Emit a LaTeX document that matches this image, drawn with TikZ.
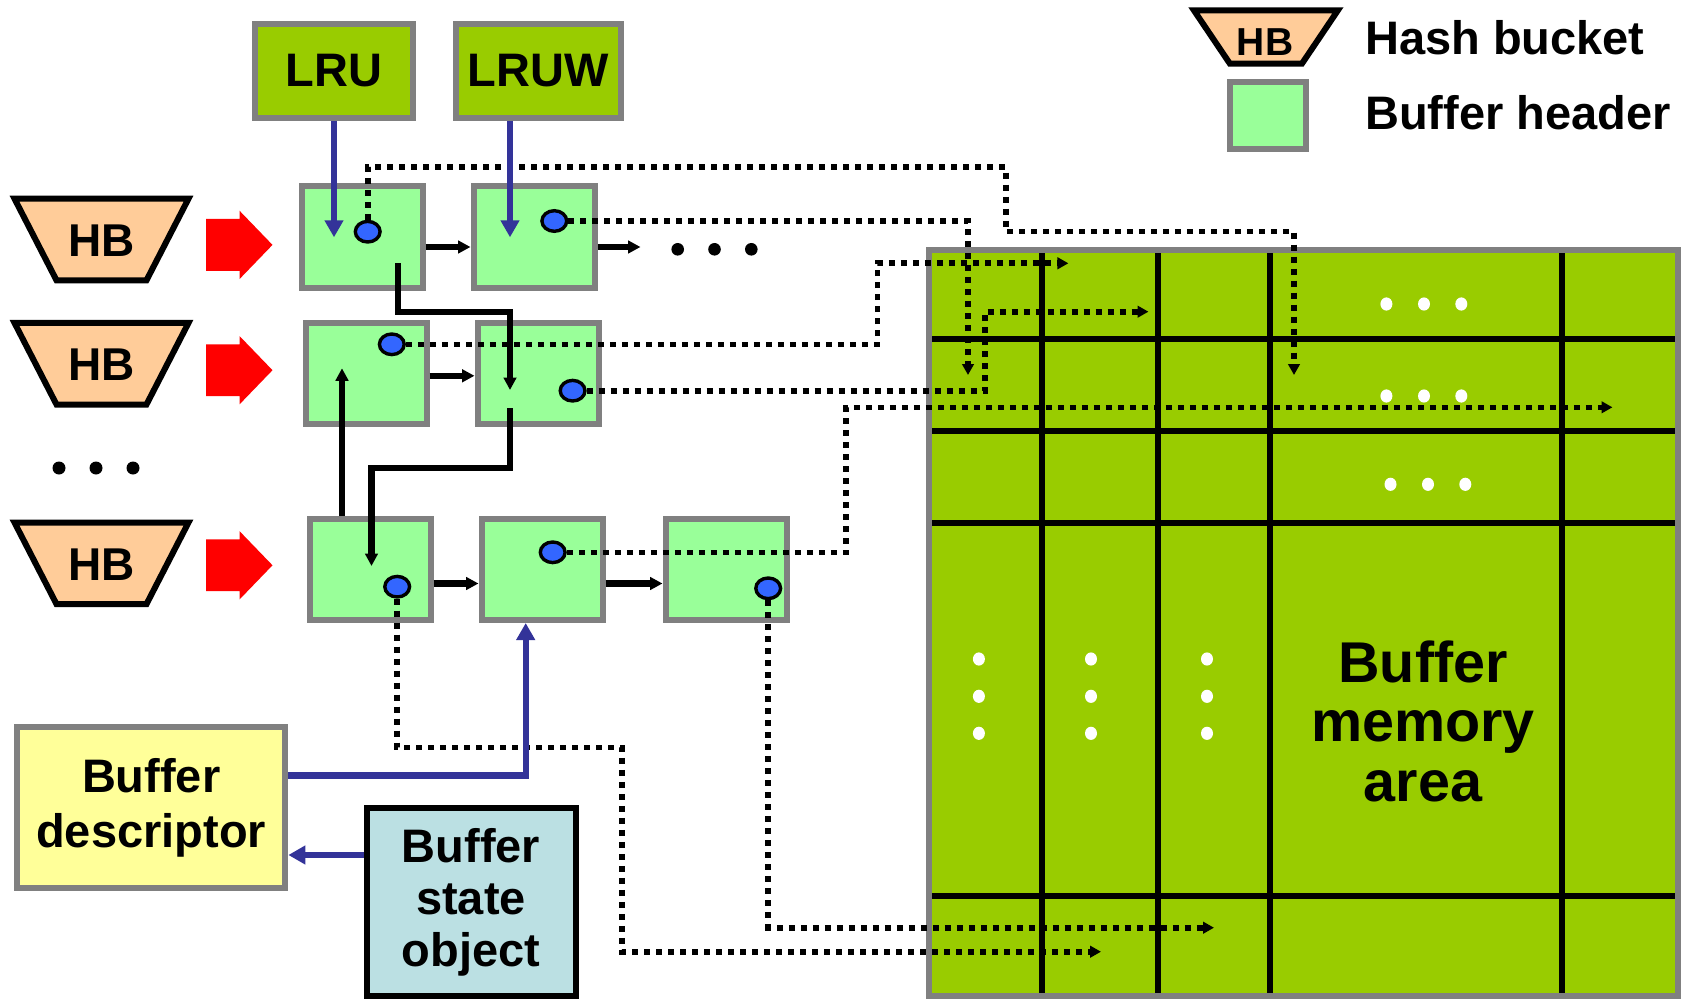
\documentclass[tikz,border=0pt]{standalone}
\usepackage{fontspec}
\setmainfont{Liberation Sans}
\usetikzlibrary{arrows.meta,calc,shapes.geometric}
\definecolor{hgray}{HTML}{808080}
\definecolor{lgreen}{HTML}{99CC00}
\definecolor{hgreen}{HTML}{99FF99}
\definecolor{hborange}{HTML}{FFCC99}
\definecolor{dotblue}{HTML}{3366FF}
\definecolor{navy}{HTML}{333399}
\definecolor{descy}{HTML}{FFFF99}
\definecolor{statec}{RGB}{187,224,227}
\definecolor{redar}{HTML}{FF0000}
\begin{document}
\begin{tikzpicture}[x=1pt,y=-1pt,
  hdr/.style={draw=hgray,fill=hgreen,line width=6pt,minimum width=121pt,minimum height=101pt,inner sep=0pt},
  lrubox/.style={draw=hgray,fill=lgreen,line width=6pt,minimum height=94pt,inner sep=0pt,font=\bfseries\fontsize{47}{52}\selectfont},
  bdot/.style={ellipse,draw=black,fill=dotblue,line width=3.4pt,minimum width=24.8pt,minimum height=20.6pt,inner sep=0pt},
  dotline/.style={line width=5.6pt,dash pattern=on 6pt off 6pt,-{Triangle[length=11pt,width=11.5pt]}},
  blk/.style={line width=6.2pt,-{Triangle[length=12.5pt,width=12.5pt]}},
  bl/.style={color=navy,line width=6.2pt,-{Triangle[length=17pt,width=18pt]}},
  hbtxt/.style={inner sep=0pt,font=\bfseries\fontsize{46}{50}\selectfont},
  lgtxt/.style={inner sep=0pt,anchor=base west,font=\bfseries\fontsize{47}{52}\selectfont},
  gridline/.style={line width=6.2pt},
  wdot/.style={fill=white},
  hbbig/.pic={\draw[line width=6pt,fill=hborange] (-87,-40.8) -- (87,-40.8) -- (45,40.8) -- (-45,40.8) -- cycle;},
  hbsmall/.pic={\draw[line width=6pt,fill=hborange] (-72,-26.7) -- (72,-26.7) -- (36,26.7) -- (-36,26.7) -- cycle;},
  redarr/.pic={\fill[redar] (0,-25.9) -- (33.5,-25.9) -- (33.5,-34.2) -- (66.5,0) -- (33.5,34.2) -- (33.5,25.9) -- (0,25.9) -- cycle;}
]
\useasboundingbox (0,0) rectangle (1688,1000);

% buffer memory area
\node[draw=hgray,fill=lgreen,line width=6pt,minimum width=749pt,minimum height=745.7pt,inner sep=0pt] (mem) at (1303.5,623.15) {};
\foreach \x in {1042,1158,1270,1562} \draw[gridline] (\x,253.3) -- (\x,993);
\foreach \y in {339.3,431.3,523.3,895.7} \draw[gridline] (932,\y) -- (1675,\y);
\foreach \x in {1386.4,1424,1461.3} {\fill[wdot] (\x,304) ellipse (6pt and 6.6pt); \fill[wdot] (\x,396) ellipse (6pt and 6.6pt);}
\foreach \x in {1390.5,1428,1465.3} \fill[wdot] (\x,484.3) ellipse (6pt and 6.6pt);
\foreach \x in {978.9,1091,1207} \foreach \y in {659,696.3,733.3} \fill[wdot] (\x,\y) ellipse (6pt and 6.6pt);
\node[inner sep=0pt,align=center,font=\bfseries\fontsize{57.5}{59.5}\selectfont] (memtxt) at (1423,721) {Buffer\\memory\\area};

% LRU lists
\node[lrubox,minimum width=158pt] (lru) at (334,71) {LRU};
\node[lrubox,minimum width=165pt] (lruw) at (538.3,71) {LRUW};

% hash buckets
\pic at (101.5,239.5) {hbbig};
\node[hbtxt] (hb1) at (101.5,240.7) {HB};
\pic at (101.5,363.7) {hbbig};
\node[hbtxt] (hb2) at (101.5,364.2) {HB};
\pic at (101.5,563.3) {hbbig};
\node[hbtxt] (hb3) at (101.5,564.3) {HB};
\foreach \x in {59,96,133} \fill (\x,468) circle (6.5pt);

% red block arrows
\pic at (206,244.9) {redarr};
\pic at (206,370.2) {redarr};
\pic at (206,565.3) {redarr};

% buffer headers
\node[hdr] (b11) at (362,237) {};
\node[hdr] (b12) at (534,237) {};
\node[hdr] (b21) at (366,373.3) {};
\node[hdr] (b22) at (538,373.3) {};
\node[hdr] (b31) at (370,569.5) {};
\node[hdr] (b32) at (542,569.5) {};
\node[hdr] (b33) at (726,569.5) {};
\foreach \x in {677.7,714.5,751.3} \fill (\x,249.3) ellipse (6.3pt and 6.3pt);

% descriptor and state object
\node[draw=hgray,fill=descy,line width=6pt,minimum width=268.3pt,minimum height=160.4pt,inner sep=0pt,align=center,font=\bfseries\fontsize{47}{55}\selectfont] (desc) at (151.2,807.5) {Buffer\\descriptor};
\node[draw=black,fill=statec,line width=6pt,minimum width=209pt,minimum height=188pt,inner sep=0pt,align=center,font=\bfseries\fontsize{47}{52}\selectfont] (state) at (471,902) {Buffer\\state\\object};

% legend
\pic at (1265.9,37) {hbsmall};
\node[inner sep=0pt,font=\bfseries\fontsize{39}{42}\selectfont] (lghb) at (1265,41.7) {HB};
\node[draw=hgray,fill=hgreen,line width=6pt,minimum width=76pt,minimum height=67pt,inner sep=0pt] (lgbox) at (1267.5,116) {};
\node[lgtxt] (lgt1) at (1365,55) {Hash bucket};
\node[lgtxt] (lgt2) at (1365,130) {Buffer header};

% blue pointer dots
\node[bdot] (d11) at (367.7,231.7) {};
\node[bdot] (d12) at (554.3,221) {};
\node[bdot] (d21) at (391.8,344.3) {};
\node[bdot] (d22) at (572.6,390.7) {};
\node[bdot] (d31) at (397.2,586.7) {};
\node[bdot] (d32) at (552.7,552.3) {};
\node[bdot] (d33) at (768.2,588.3) {};

% free ends
\coordinate (t1) at (1294,375);
\coordinate (t2) at (968,375);
\coordinate (t3) at (1068.4,263.3);
\coordinate (t4) at (1148.5,311.7);
\coordinate (t5) at (1612.5,407.3);
\coordinate (t6) at (1101,951.7);
\coordinate (t7) at (1214,927.7);
\coordinate (c1) at (640.5,247);
\coordinate (p1s) at (398,263.3);
\coordinate (p1e) at (510,390);
\coordinate (p2s) at (510,408.3);
\coordinate (p2e) at (371.5,566);
\coordinate (p3e) at (342,368.3);
\coordinate (e1) at (334,237.3);
\coordinate (e2) at (510,237.3);

% dotted pointers into memory
\draw[dotline] (d11.north) |- (1006,167.3) |- (1294,231.7) -- (t1);
\draw[dotline] (d12.east) -| (t2);
\draw[dotline] (d21.east) -| (877.6,263.3) -- (t3);
\draw[dotline] (d22.east) -| (985,311.7) -- (t4);
\draw[dotline] (d32.east) -| (846,407.3) -- (t5);
\draw[dotline] (d31.south) |- (622,747.5) |- (t6);
\draw[dotline] (d33.south) |- (t7);

% chain links
\draw[blk] ([yshift=-10pt]b11.east) -- ([yshift=-10pt]b12.west);
\draw[blk] ([yshift=-10pt]b12.east) -- (c1);
\draw[blk] ([yshift=-2.5pt]b21.east) -- ([yshift=-2.5pt]b22.west);
\draw[blk] ([yshift=-14pt]b31.east) -- ([yshift=-14pt]b32.west);
\draw[blk] ([yshift=-14pt]b32.east) -- ([yshift=-14pt]b33.west);
\draw[blk] (p1s) |- (510,311.7) -- (p1e);
\draw[blk] (p2s) |- (371.5,467.7) -- (p2e);
\draw[blk] (b31.north -| p3e) -- (p3e);

% blue links
\draw[bl] (lru.south) -- (e1);
\draw[bl] (lruw.south -| e2) -- (e2);
\draw[bl] ([yshift=32pt]desc.east) -| ([xshift=-16.3pt]b32.south);
\draw[bl] ([yshift=47pt]state.west) -- ([yshift=47pt]state.west -| desc.east);
\end{tikzpicture}
\end{document}
